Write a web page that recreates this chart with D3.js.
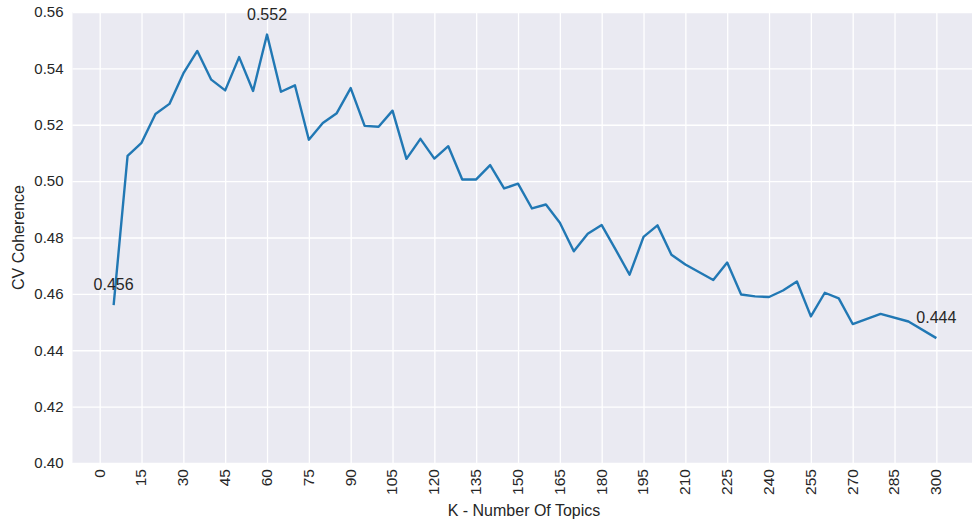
<!DOCTYPE html>
<html>
<head>
<meta charset="utf-8">
<script src="https://cdn.jsdelivr.net/npm/d3@7"></script>
<style>
  body { margin: 0; background: #fff; }
  svg text { font-family: "Liberation Sans", Arial, sans-serif; fill: #262626; }
  .grid line { stroke: #fff; stroke-width: 1.3; }
  .grid .domain { display: none; }
</style>
</head>
<body>
<svg id="chart" width="972" height="524"></svg>
<script>
/*** DATA ***/
// number of topics (x)
const kValues = [5, 10, 15, 20, 25, 30, 35, 40, 45, 50, 55, 60, 65, 70, 75, 80, 85, 90, 95, 100,
  105, 110, 115, 120, 125, 130, 135, 140, 145, 150, 155, 160, 165, 170, 175, 180, 185, 190, 195, 200,
  205, 210, 220, 225, 230, 235, 240, 245, 250, 255, 260, 265, 270, 280, 290, 300];
// cv coherence score (y)
const coherence = [0.456, 0.509, 0.5136, 0.5238, 0.5274, 0.5382, 0.5462, 0.5360, 0.5322, 0.5440,
  0.5320, 0.5520, 0.5317, 0.5340, 0.5147, 0.5206, 0.5241, 0.5330, 0.5196, 0.5193,
  0.5250, 0.5079, 0.5150, 0.5080, 0.5124, 0.5006, 0.5006, 0.5057, 0.4974, 0.4991,
  0.4903, 0.4917, 0.4852, 0.4751, 0.4813, 0.4844, 0.4757, 0.4668, 0.4802, 0.4843,
  0.4739, 0.4704, 0.4649, 0.4711, 0.4598, 0.4591, 0.4589, 0.4612, 0.4644, 0.4520,
  0.4604, 0.4584, 0.4493, 0.4529, 0.4502, 0.4443];
// ticks
const xTicks = d3.range(0, 301, 15);
const yTicks = [0.40, 0.42, 0.44, 0.46, 0.48, 0.50, 0.52, 0.54, 0.56];

const data = kValues.map((k, i) => ({k: k, v: coherence[i]}));

/*** LAYOUT ***/
const margin = {left: 72.5, top: 12, right: -5.5, bottom: 61};
const width = 972 - margin.left - margin.right;
const height = 524 - margin.top - margin.bottom;

const svg = d3.select('#chart');
const g = svg.append('g').attr('transform', 'translate(' + margin.left + ',' + margin.top + ')');

//scales (matplotlib style 5% x margin)
const xPad = (d3.max(kValues) - d3.min(kValues)) * 0.05;
const x = d3.scaleLinear().domain([d3.min(kValues) - xPad, d3.max(kValues) + xPad]).range([0, width]);
const y = d3.scaleLinear().domain([0.40, 0.56]).range([height, 0]);

//background
g.append('rect')
  .attr('width', width)
  .attr('height', height)
  .attr('fill', '#eaeaf2');

//x axis + vertical grid
const xAxis = g.append('g')
  .attr('class', 'grid')
  .attr('transform', 'translate(0,' + height + ')')
  .call(d3.axisBottom(x).tickValues(xTicks).tickSizeInner(-height).tickSizeOuter(0).tickPadding(0));
xAxis.selectAll('text')
  .attr('font-size', '15.5px')
  .attr('text-anchor', 'end')
  .attr('transform', 'rotate(-90)')
  .attr('x', -6)
  .attr('y', 0)
  .attr('dy', '0.28em');

//y axis + horizontal grid
const yAxis = g.append('g')
  .attr('class', 'grid')
  .call(d3.axisLeft(y).tickValues(yTicks).tickFormat(d3.format('.2f')).tickSizeInner(-width).tickSizeOuter(0).tickPadding(9));
yAxis.selectAll('text')
  .attr('font-size', '15px');

//line
const line = d3.line()
  .x(d => x(d.k))
  .y(d => y(d.v));

g.append('path')
  .datum(data)
  .attr('fill', 'none')
  .attr('stroke', '#2178b4')
  .attr('stroke-width', 2.4)
  .attr('stroke-linejoin', 'round')
  .attr('d', line);

//annotations: first, max, last
const maxIdx = d3.maxIndex(coherence);
const notes = [data[0], data[maxIdx], data[data.length - 1]];
g.selectAll('.note')
  .data(notes)
  .enter().append('text')
  .attr('class', 'note')
  .attr('x', d => x(d.k))
  .attr('y', d => y(d.v) - 15)
  .attr('text-anchor', 'middle')
  .attr('font-size', '16px')
  .text(d => d3.format('.3f')(d.v));

//axis labels
svg.append('text')
  .attr('x', 524)
  .attr('y', 516)
  .attr('text-anchor', 'middle')
  .attr('font-size', '16px')
  .text('K - Number Of Topics');

svg.append('text')
  .attr('transform', 'translate(24,' + (margin.top + height / 2) + ') rotate(-90)')
  .attr('text-anchor', 'middle')
  .attr('font-size', '16px')
  .text('CV Coherence');
</script>
</body>
</html>
